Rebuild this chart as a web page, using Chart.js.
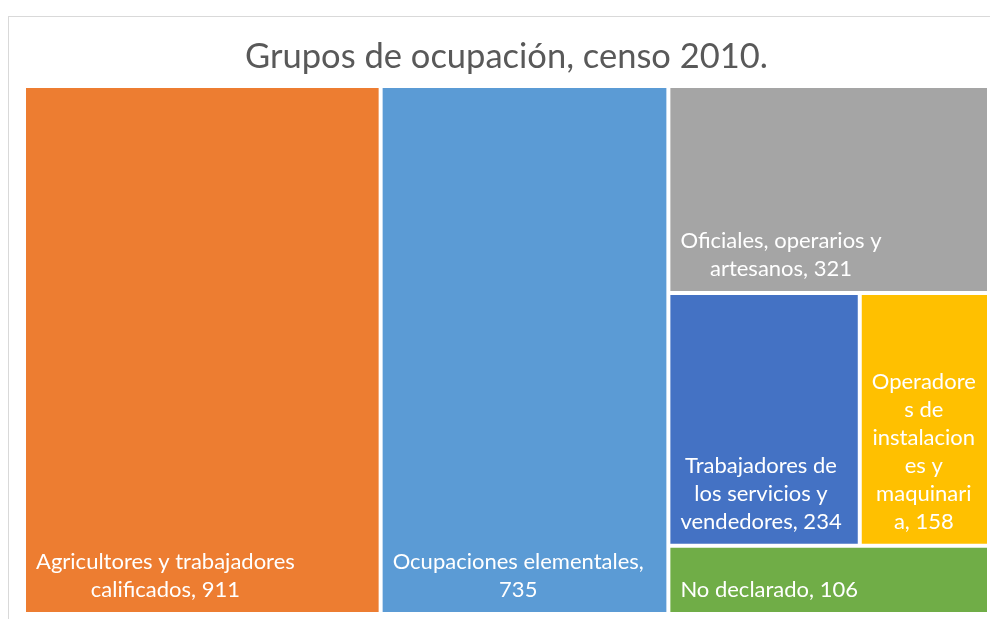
<!DOCTYPE html>
<html>
<head>
<meta charset="utf-8">
<title>Grupos de ocupación, censo 2010.</title>
<script src="https://cdn.jsdelivr.net/npm/chart.js"></script>
<style>
    body { margin: 0; background: #fff; }
    #wrap { position: relative; width: 990px; height: 619px; overflow: hidden; }
    #frame { position: absolute; left: 8px; top: 16px; width: 1200px; height: 800px; border: 1px solid #d9d9d9; }
    #treemapChart { position: absolute; left: 0; top: 0; }
</style>
</head>
<body>
<div id="wrap">
    <div id="frame"></div>
    <canvas id="treemapChart" width="990" height="619"></canvas>
</div>
<script>
const chartTitle = 'Grupos de ocupación, censo 2010.';
const categories = [
    'Agricultores y trabajadores calificados',
    'Ocupaciones elementales',
    'Oficiales, operarios y artesanos',
    'Trabajadores de los servicios y vendedores',
    'Operadores de instalaciones y maquinaria',
    'No declarado'
];
const values = [911, 735, 321, 234, 158, 106];
const colors = ['#ED7D31', '#5B9BD5', '#A5A5A5', '#4472C4', '#FFC000', '#70AD47'];

// aspect ratio of a strip of areas laid along a side
function worstRatio(row, side) {
    const sum = row.reduce((a, b) => a + b, 0);
    const thick = sum / side;
    let worst = 0;
    row.forEach(a => {
        const len = a / thick;
        worst = Math.max(worst, thick / len, len / thick);
    });
    return worst;
}

// squarified treemap in a w x h box, returns boxes in the same units
function squarify(vals, w, h) {
    const total = vals.reduce((a, b) => a + b, 0);
    const areas = vals.map(v => v * w * h / total);
    const boxes = [];
    let x = 0, y = 0, rw = w, rh = h, i = 0;
    while (i < areas.length) {
        const column = rw > rh * 1.05;
        const side = column ? rh : rw;
        let row = [areas[i]];
        let j = i + 1;
        while (j < areas.length && worstRatio(row.concat(areas[j]), side) <= worstRatio(row, side)) {
            row.push(areas[j]);
            j++;
        }
        const thick = row.reduce((a, b) => a + b, 0) / side;
        let off = 0;
        row.forEach(a => {
            const len = a / thick;
            if (column) {
                boxes.push({ x0: x, x1: x + thick, y0: y + off, y1: y + off + len });
            } else {
                boxes.push({ x0: x + off, x1: x + off + len, y0: y, y1: y + thick });
            }
            off += len;
        });
        if (column) { x += thick; rw -= thick; } else { y += thick; rh -= thick; }
        i = j;
    }
    return boxes;
}

class TreemapController extends Chart.DatasetController {
    update(mode) {
        const meta = this._cachedMeta;
        this.updateElements(meta.data, 0, meta.data.length, mode);
    }

    updateElements(rects, start, count, mode) {
        const meta = this._cachedMeta;
        const area = this.chart.chartArea;
        if (!area) return;
        const aspect = (area.right - area.left) / (area.bottom - area.top);
        const vals = this.getDataset().data;
        const boxes = squarify(vals, aspect, 1);
        for (let i = start; i < start + count; i++) {
            const b = boxes[i];
            const left = meta.xScale.getPixelForValue(b.x0 / aspect);
            const right = meta.xScale.getPixelForValue(b.x1 / aspect);
            const top = meta.yScale.getPixelForValue(b.y0);
            const bottom = meta.yScale.getPixelForValue(b.y1);
            this.updateElement(rects[i], i, {
                x: (left + right) / 2,
                y: top,
                base: bottom,
                width: right - left,
                height: bottom - top,
                horizontal: false,
                borderSkipped: {},
                inflateAmount: 0,
                options: this.resolveDataElementOptions(i, mode)
            }, mode);
        }
    }
}
TreemapController.id = 'treemap';
TreemapController.defaults = { datasetElementType: false, dataElementType: 'bar' };
Chart.register(TreemapController);

function wrapText(ctx, text, maxWidth) {
    const words = text.split(' ');
    const lines = [];
    let line = '';
    words.forEach(word => {
        const test = line ? line + ' ' + word : word;
        if (ctx.measureText(test).width <= maxWidth) {
            line = test;
            return;
        }
        if (line) lines.push(line);
        while (ctx.measureText(word).width > maxWidth) {
            let k = word.length - 1;
            while (k > 1 && ctx.measureText(word.slice(0, k)).width > maxWidth) k--;
            lines.push(word.slice(0, k));
            word = word.slice(k);
        }
        line = word;
    });
    if (line) lines.push(line);
    return lines;
}

const tileLabels = {
    id: 'tileLabels',
    afterDatasetsDraw(chart) {
        const ctx = chart.ctx;
        const meta = chart.getDatasetMeta(0);
        ctx.save();
        ctx.font = '22px Lato';
        ctx.fillStyle = '#ffffff';
        ctx.textAlign = 'center';
        ctx.textBaseline = 'alphabetic';
        meta.data.forEach((el, i) => {
            const left = el.x - el.width / 2 + 2;
            const right = el.x + el.width / 2 - 2;
            const bottom = el.base - 2;
            const pad = 10;
            const lines = wrapText(ctx, categories[i] + ', ' + values[i], right - left - 2 * pad);
            const blockW = Math.max(...lines.map(l => ctx.measureText(l).width));
            const cx = left + pad + blockW / 2;
            lines.forEach((l, k) => {
                ctx.fillText(l, cx, bottom - 15 - (lines.length - 1 - k) * 28);
            });
        });
        ctx.restore();
    }
};

Chart.defaults.font.family = 'Lato';

const ctx = document.getElementById('treemapChart').getContext('2d');
const treemapChart = new Chart(ctx, {
    type: 'treemap',
    data: {
        labels: categories,
        datasets: [{
            data: values,
            backgroundColor: colors,
            borderColor: '#ffffff',
            borderWidth: 2
        }]
    },
    options: {
        responsive: false,
        animation: false,
        events: [],
        layout: { padding: { left: 24, right: 1, top: 0, bottom: 5 } },
        scales: {
            x: { type: 'linear', min: 0, max: 1, display: false },
            y: { type: 'linear', min: 0, max: 1, reverse: true, display: false }
        },
        plugins: {
            legend: { display: false },
            tooltip: { enabled: false },
            title: {
                display: true,
                text: chartTitle,
                color: '#595959',
                font: { family: 'Lato', size: 34.5, weight: 'normal' },
                padding: { top: 35.8, bottom: 8.8 }
            }
        }
    },
    plugins: [tileLabels]
});
</script>
</body>
</html>
